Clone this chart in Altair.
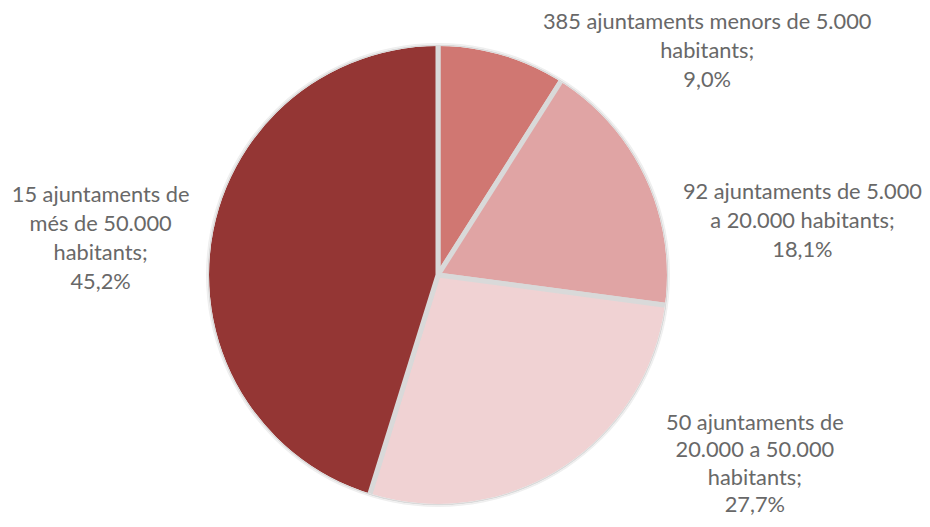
import altair as alt
import pandas as pd

categories = [
    "385 ajuntaments menors de 5.000 habitants",
    "92 ajuntaments de 5.000 a 20.000 habitants",
    "50 ajuntaments de 20.000 a 50.000 habitants",
    "15 ajuntaments de més de 50.000 habitants",
]
labels = [
    "385 ajuntaments menors de 5.000\nhabitants;\n9,0%",
    "92 ajuntaments de 5.000\na 20.000 habitants;\n18,1%",
    "50 ajuntaments de\n20.000 a 50.000\nhabitants;\n27,7%",
    "15 ajuntaments de\nmés de 50.000\nhabitants;\n45,2%",
]
shares = [9.0, 18.1, 27.7, 45.2]
colors = ["#D07772", "#E0A4A4", "#F0D2D3", "#943634"]

df = pd.DataFrame({
    "idx": list(range(len(categories))),
    "category": categories,
    "label": labels,
    "share": shares,
})

CX, CY = 430, 267
R = 229

base = alt.Chart(df)

pie = base.mark_arc(radius=R + 4, stroke="#D9D9D9", strokeWidth=5).encode(
    x=alt.value(CX),
    y=alt.value(CY),
    theta=alt.Theta("share:Q", stack=True),
    order=alt.Order("idx:Q"),
    color=alt.Color("category:N", scale=alt.Scale(domain=categories, range=colors), legend=None),
)

# white ring trimming the outer stroke, then a soft edge shadow
ring_data = alt.Data(values=[{"k": 1}])
trim = alt.Chart(ring_data).mark_arc(
    radius=R + 10, radius2=R, theta=0, theta2=6.2832, color="white"
).encode(x=alt.value(CX), y=alt.value(CY))
shadow1 = alt.Chart(ring_data).mark_arc(
    radius=R + 1.5, radius2=R, theta=0, theta2=6.2832, color="#DADADA"
).encode(x=alt.value(CX), y=alt.value(CY))
shadow2 = alt.Chart(ring_data).mark_arc(
    radius=R + 3, radius2=R + 1.5, theta=0, theta2=6.2832, color="#EFEFEF"
).encode(x=alt.value(CX), y=alt.value(CY))

offsets = [(205, -32, 29), (156, 14, 29), (193, -46, 27.5), (-110, -45.5, 29)]
text_layers = []
for i, (dx, dy, lh) in enumerate(offsets):
    t = base.mark_text(
        radius=230, dx=dx, dy=dy, font="Lato", fontSize=21.8, color="#686868",
        lineBreak="\n", lineHeight=lh, align="center", baseline="middle",
    ).encode(
        x=alt.value(CX),
        y=alt.value(CY),
        theta=alt.Theta("share:Q", stack=True),
        order=alt.Order("idx:Q"),
        text="label:N",
        opacity=alt.condition(alt.datum.idx == i, alt.value(1), alt.value(0)),
    )
    text_layers.append(t)

chart = alt.layer(pie, trim, shadow1, shadow2, *text_layers).properties(
    width=914, height=511, padding=0, autosize="none", background="white",
).configure_view(stroke=None)

chart.save("out.html", embed_options={"renderer": "svg", "actions": False})
